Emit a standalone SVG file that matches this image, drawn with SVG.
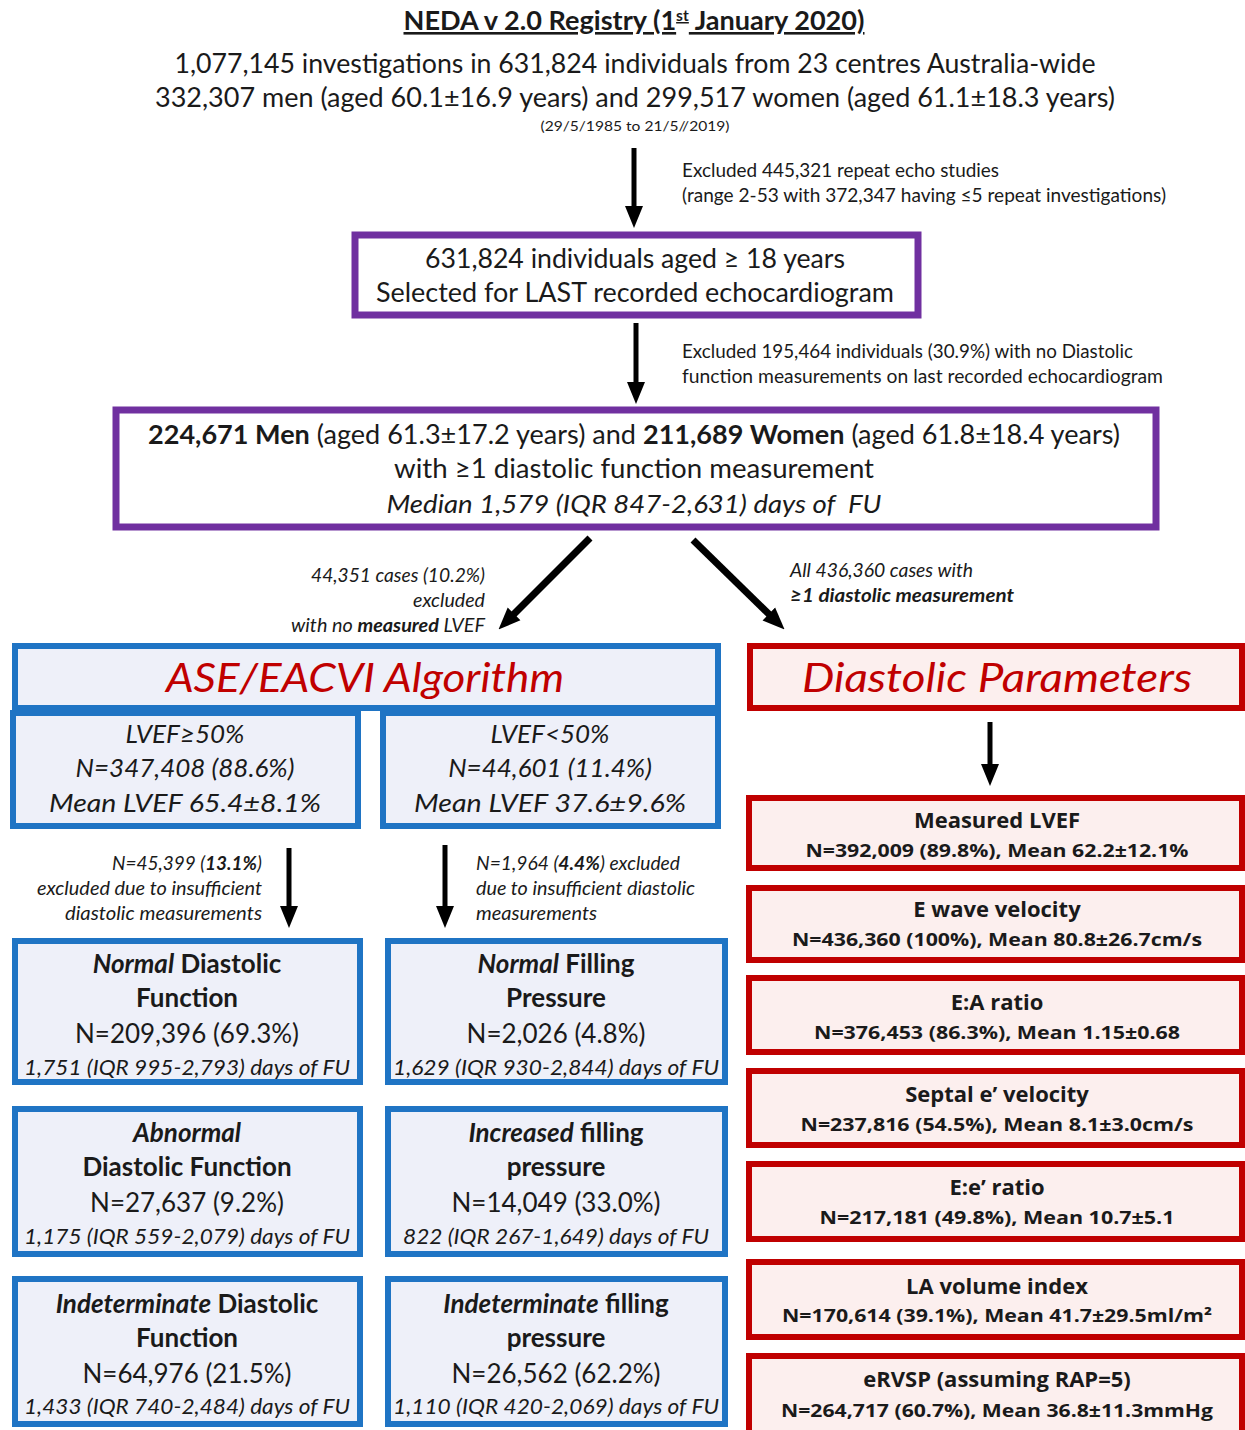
<svg xmlns="http://www.w3.org/2000/svg" width="1245" height="1430" viewBox="0 0 1245 1430">
<defs>
<style>
text{font-family:Lato,"Open Sans","DejaVu Sans",sans-serif;fill:#1a1a1a}
.c{text-anchor:middle}
.e{text-anchor:end}
.big{font-size:26px}
.note{font-size:18.5px}
.it{font-style:italic}
.b{font-weight:bold}
.purple{fill:#ffffff;stroke:#7030A0;stroke-width:7}
.blue{fill:#EEF0F9;stroke:#1F74C4;stroke-width:6}
.red{fill:#FCEFEE;stroke:#C00000;stroke-width:6}
.rt{font-family:"Open Sans",Lato,sans-serif;font-weight:bold}
.h{font-size:40px;font-style:italic;fill:#C00000}
.arr{stroke:#000;fill:none}
</style>
<marker id="ah" markerUnits="userSpaceOnUse" markerWidth="22" markerHeight="22" viewBox="0 0 22 22" refX="10" refY="11" orient="auto">
<path d="M0,2 L22,11 L0,20 z" fill="#000"/>
</marker>
</defs>
<rect width="1245" height="1430" fill="#ffffff"/>

<g id="header">
<text class="c b" x="634" y="30" font-size="26" text-decoration="underline" textLength="461" lengthAdjust="spacingAndGlyphs">NEDA v 2.0 Registry (1<tspan font-size="15" dy="-9">st</tspan><tspan dy="9"> January 2020)</tspan></text>
<text class="c big" x="635" y="73" font-size="27" textLength="921" lengthAdjust="spacingAndGlyphs">1,077,145 investigations in 631,824 individuals from 23 centres Australia-wide</text>
<text class="c big" x="635" y="107" font-size="27" textLength="960" lengthAdjust="spacingAndGlyphs">332,307 men (aged 60.1±16.9 years) and 299,517 women (aged 61.1±18.3 years)</text>
<text class="c" x="635" y="131" font-size="14" textLength="189" lengthAdjust="spacingAndGlyphs">(29/5/1985 to 21/5//2019)</text>
</g>

<g id="connectors">
<line class="arr" x1="634" y1="148" x2="634" y2="216" stroke-width="5" marker-end="url(#ah)"/>
<line class="arr" x1="636" y1="323" x2="636" y2="392" stroke-width="5" marker-end="url(#ah)"/>
<line class="arr" x1="590" y1="538" x2="507" y2="621" stroke-width="7" marker-end="url(#ah)"/>
<line class="arr" x1="693" y1="540" x2="776" y2="621" stroke-width="7" marker-end="url(#ah)"/>
<line class="arr" x1="289" y1="848" x2="289" y2="916" stroke-width="5" marker-end="url(#ah)"/>
<line class="arr" x1="445" y1="845" x2="445" y2="916" stroke-width="5" marker-end="url(#ah)"/>
<line class="arr" x1="990" y1="722" x2="990" y2="774" stroke-width="5" marker-end="url(#ah)"/>
</g>

<g id="labels">
<text class="note" x="682" y="177" font-size="17" textLength="317" lengthAdjust="spacingAndGlyphs">Excluded 445,321 repeat echo studies</text>
<text class="note" x="682" y="202" font-size="17" textLength="484" lengthAdjust="spacingAndGlyphs">(range 2-53 with 372,347 having ≤5 repeat investigations)</text>
<text class="note" x="682" y="358" font-size="17" textLength="451" lengthAdjust="spacingAndGlyphs">Excluded 195,464 individuals (30.9%) with no Diastolic</text>
<text class="note" x="682" y="383" font-size="17" textLength="481" lengthAdjust="spacingAndGlyphs">function measurements on last recorded echocardiogram</text>
<text class="note it e" x="485" y="582" textLength="174" lengthAdjust="spacingAndGlyphs">44,351 cases (10.2%)</text>
<text class="note it e" x="485" y="607" textLength="72" lengthAdjust="spacingAndGlyphs">excluded</text>
<text class="note it e" x="485" y="632" textLength="194" lengthAdjust="spacingAndGlyphs">with no <tspan class="b">measured</tspan> LVEF</text>
<text class="note it" x="790" y="577" textLength="183" lengthAdjust="spacingAndGlyphs">All 436,360 cases with</text>
<text class="note it b" x="790" y="602" textLength="224" lengthAdjust="spacingAndGlyphs">≥1 diastolic measurement</text>
<text class="note it e" x="262" y="870" textLength="150" lengthAdjust="spacingAndGlyphs">N=45,399 (<tspan class="b">13.1%</tspan>)</text>
<text class="note it e" x="262" y="895" textLength="225" lengthAdjust="spacingAndGlyphs">excluded due to insufficient</text>
<text class="note it e" x="262" y="920" textLength="197" lengthAdjust="spacingAndGlyphs">diastolic measurements</text>
<text class="note it" x="476" y="870" textLength="204" lengthAdjust="spacingAndGlyphs">N=1,964 (<tspan class="b">4.4%</tspan>) excluded</text>
<text class="note it" x="476" y="895" textLength="219" lengthAdjust="spacingAndGlyphs">due to insufficient diastolic</text>
<text class="note it" x="476" y="920" textLength="121" lengthAdjust="spacingAndGlyphs">measurements</text>
</g>

<g id="n-last">
<rect class="purple" x="355" y="235" width="563" height="80"/>
<text class="c big" x="635" y="268" textLength="420" lengthAdjust="spacingAndGlyphs">631,824 individuals aged ≥ 18 years</text>
<text class="c big" x="635" y="302" textLength="518" lengthAdjust="spacingAndGlyphs">Selected for LAST recorded echocardiogram</text>
</g>

<g id="n-cohort">
<rect class="purple" x="116" y="410" width="1040" height="117"/>
<text class="c big" x="634" y="444" textLength="972" lengthAdjust="spacingAndGlyphs"><tspan class="b">224,671 Men</tspan> (aged 61.3±17.2 years) and <tspan class="b">211,689 Women</tspan> (aged 61.8±18.4 years)</text>
<text class="c big" x="634" y="478" textLength="480" lengthAdjust="spacingAndGlyphs">with ≥1 diastolic function measurement</text>
<text class="c big it" x="634" y="513" textLength="495" lengthAdjust="spacingAndGlyphs" xml:space="preserve">Median 1,579 (IQR 847-2,631) days of  FU</text>
</g>

<g id="n-ase">
<rect class="blue" x="15" y="646" width="703" height="62"/>
<text class="c h" x="365" y="692" textLength="398" lengthAdjust="spacingAndGlyphs">ASE/EACVI Algorithm</text>
</g>

<g id="n-lvef-pres">
<rect class="blue" x="13" y="713" width="345" height="113"/>
<text class="c big it" x="185" y="743">LVEF≥50%</text>
<text class="c big it" x="185" y="777" font-size="27">N=347,408 (88.6%)</text>
<text class="c big it" x="185" y="812" font-size="27" textLength="272" lengthAdjust="spacingAndGlyphs">Mean LVEF 65.4±8.1%</text>
</g>

<g id="n-lvef-red">
<rect class="blue" x="383" y="713" width="335" height="113"/>
<text class="c big it" x="550" y="743">LVEF&lt;50%</text>
<text class="c big it" x="550" y="777" font-size="27">N=44,601 (11.4%)</text>
<text class="c big it" x="550" y="812" font-size="27" textLength="272" lengthAdjust="spacingAndGlyphs">Mean LVEF 37.6±9.6%</text>
</g>

<g id="n-normal-df">
<rect class="blue" x="15" y="941" width="345" height="141"/>
<text class="c big b" x="187" y="973"><tspan class="it">Normal</tspan> Diastolic</text>
<text class="c big b" x="187" y="1007">Function</text>
<text class="c big" x="187" y="1043">N=209,396 (69.3%)</text>
<text class="c it" x="187" y="1075" font-size="22" textLength="326" lengthAdjust="spacingAndGlyphs">1,751 (IQR 995-2,793) days of FU</text>
</g>

<g id="n-abnormal-df">
<rect class="blue" x="15" y="1109" width="345" height="145"/>
<text class="c big it b" x="187" y="1142">Abnormal</text>
<text class="c big b" x="187" y="1176">Diastolic Function</text>
<text class="c big" x="187" y="1212">N=27,637 (9.2%)</text>
<text class="c it" x="187" y="1244" font-size="22" textLength="326" lengthAdjust="spacingAndGlyphs">1,175 (IQR 559-2,079) days of FU</text>
</g>

<g id="n-indet-df">
<rect class="blue" x="15" y="1279" width="345" height="145"/>
<text class="c big b" x="187" y="1313"><tspan class="it">Indeterminate</tspan> Diastolic</text>
<text class="c big b" x="187" y="1347">Function</text>
<text class="c big" x="187" y="1383">N=64,976 (21.5%)</text>
<text class="c it" x="187" y="1414" font-size="22" textLength="326" lengthAdjust="spacingAndGlyphs">1,433 (IQR 740-2,484) days of FU</text>
</g>

<g id="n-normal-fp">
<rect class="blue" x="388" y="941" width="337" height="141"/>
<text class="c big b" x="556" y="973"><tspan class="it">Normal</tspan> Filling</text>
<text class="c big b" x="556" y="1007">Pressure</text>
<text class="c big" x="556" y="1043">N=2,026 (4.8%)</text>
<text class="c it" x="556" y="1075" font-size="22" textLength="326" lengthAdjust="spacingAndGlyphs">1,629 (IQR 930-2,844) days of FU</text>
</g>

<g id="n-increased-fp">
<rect class="blue" x="388" y="1109" width="337" height="145"/>
<text class="c big b" x="556" y="1142"><tspan class="it">Increased</tspan> filling</text>
<text class="c big b" x="556" y="1176">pressure</text>
<text class="c big" x="556" y="1212">N=14,049 (33.0%)</text>
<text class="c it" x="556" y="1244" font-size="22" textLength="306" lengthAdjust="spacingAndGlyphs">822 (IQR 267-1,649) days of FU</text>
</g>

<g id="n-indet-fp">
<rect class="blue" x="388" y="1279" width="337" height="145"/>
<text class="c big b" x="556" y="1313"><tspan class="it">Indeterminate</tspan> filling</text>
<text class="c big b" x="556" y="1347">pressure</text>
<text class="c big" x="556" y="1383">N=26,562 (62.2%)</text>
<text class="c it" x="556" y="1414" font-size="22" textLength="326" lengthAdjust="spacingAndGlyphs">1,110 (IQR 420-2,069) days of FU</text>
</g>

<g id="n-diastolic-params">
<rect class="red" x="750" y="646" width="492" height="62"/>
<text class="c h" x="997" y="692" textLength="390" lengthAdjust="spacingAndGlyphs">Diastolic Parameters</text>
</g>

<g id="n-lvef">
<rect class="red" x="749" y="798" width="493" height="70"/>
<text class="c rt" x="997" y="828" font-size="22">Measured LVEF</text>
<text class="c rt" x="997" y="857" font-size="18" textLength="383" lengthAdjust="spacingAndGlyphs">N=392,009 (89.8%), Mean 62.2±12.1%</text>
</g>
<g id="n-ewave">
<rect class="red" x="749" y="888" width="493" height="72"/>
<text class="c rt" x="997" y="917" font-size="22">E wave velocity</text>
<text class="c rt" x="997" y="946" font-size="18" textLength="410" lengthAdjust="spacingAndGlyphs">N=436,360 (100%), Mean 80.8±26.7cm/s</text>
</g>
<g id="n-ea">
<rect class="red" x="749" y="978" width="493" height="74"/>
<text class="c rt" x="997" y="1010" font-size="22">E:A ratio</text>
<text class="c rt" x="997" y="1039" font-size="18" textLength="366" lengthAdjust="spacingAndGlyphs">N=376,453 (86.3%), Mean 1.15±0.68</text>
</g>
<g id="n-septal">
<rect class="red" x="749" y="1071" width="493" height="74"/>
<text class="c rt" x="997" y="1102" font-size="22">Septal e’ velocity</text>
<text class="c rt" x="997" y="1131" font-size="18" textLength="393" lengthAdjust="spacingAndGlyphs">N=237,816 (54.5%), Mean 8.1±3.0cm/s</text>
</g>
<g id="n-ee">
<rect class="red" x="749" y="1164" width="493" height="75"/>
<text class="c rt" x="997" y="1195" font-size="22">E:e’ ratio</text>
<text class="c rt" x="997" y="1224" font-size="18" textLength="355" lengthAdjust="spacingAndGlyphs">N=217,181 (49.8%), Mean 10.7±5.1</text>
</g>
<g id="n-la">
<rect class="red" x="749" y="1262" width="493" height="75"/>
<text class="c rt" x="997" y="1294" font-size="22">LA volume index</text>
<text class="c rt" x="997" y="1322" font-size="18" textLength="430" lengthAdjust="spacingAndGlyphs">N=170,614 (39.1%), Mean 41.7±29.5ml/m²</text>
</g>
<g id="n-ervsp">
<rect class="red" x="749" y="1356" width="493" height="80"/>
<text class="c rt" x="997" y="1387" font-size="22">eRVSP (assuming RAP=5)</text>
<text class="c rt" x="997" y="1417" font-size="18" textLength="432" lengthAdjust="spacingAndGlyphs">N=264,717 (60.7%), Mean 36.8±11.3mmHg</text>
</g>
</svg>
